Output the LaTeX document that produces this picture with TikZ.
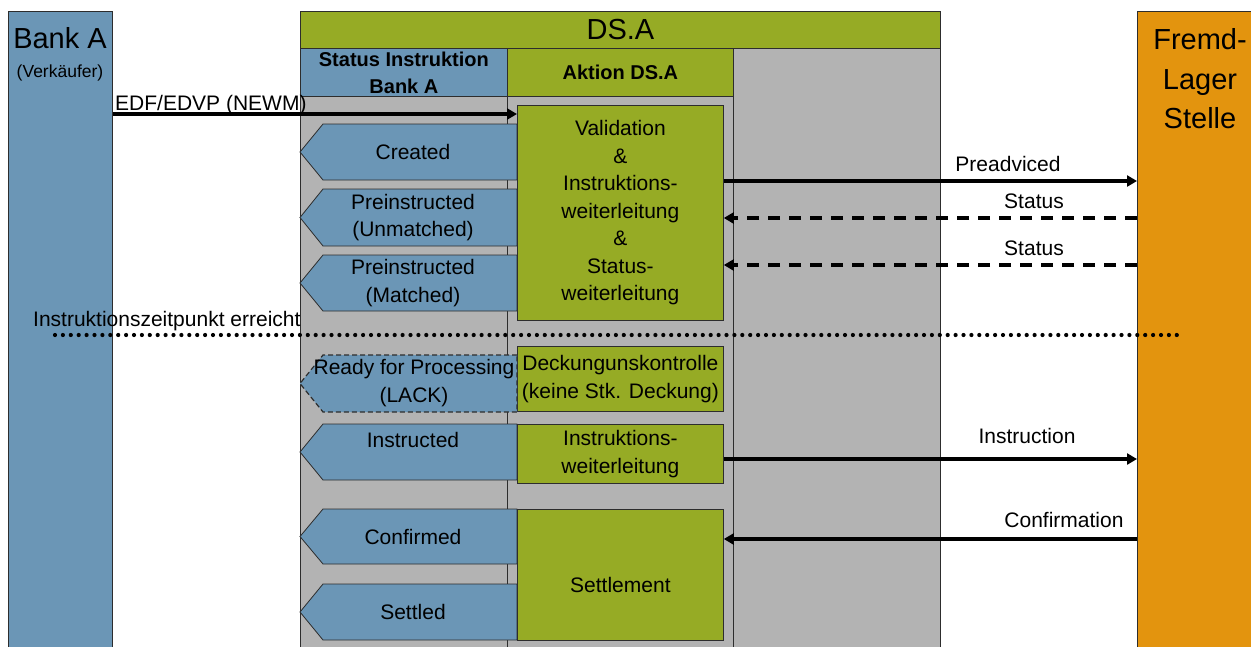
\documentclass[tikz,border=0pt]{standalone}
\usepackage{fontspec}
\setmainfont{Liberation Sans}
\setsansfont{Liberation Sans}
\usetikzlibrary{arrows.meta, positioning}

\definecolor{bankblue}{RGB}{107,150,182}
\definecolor{dsgreen}{RGB}{150,171,37}
\definecolor{dsgray}{RGB}{179,179,179}
\definecolor{lagerorange}{RGB}{227,148,14}
\definecolor{edge}{RGB}{45,45,45}

\begin{document}
\begin{tikzpicture}[x=1pt, y=-1pt, font=\fontsize{21}{27.5}\selectfont,
	col/.style={draw=edge, line width=0.8pt, anchor=north west, inner sep=0pt, align=center},
	act/.style={col, fill=dsgreen},
	stat/.style={draw=edge, fill=bankblue, line width=0.8pt},
	txt/.style={inner sep=0pt, align=center},
	lbl/.style={inner sep=0pt, anchor=base},
	big/.style={inner sep=0pt, anchor=base, font=\fontsize{29}{35}\selectfont},
	hdr/.style={font=\fontsize{20}{27}\selectfont\bfseries},
	msg/.style={line width=4pt, -{Triangle[length=10pt, width=11pt]}},
	statmsg/.style={msg, dash pattern=on 12pt off 9pt},
	dotline/.style={line width=4.2pt, line cap=round, dash pattern=on 0pt off 7.9pt},
	divider/.style={draw=edge, line width=0.8pt}]
	\def\A{517}
	\def\T{11}

	\useasboundingbox (0,0) rectangle (1251,646);
	\clip (0,0) rectangle (1251,646);

	\node[col, fill=bankblue, minimum width=104pt, minimum height=660pt]		(bankA) at (8,\T) {};
	\node[col, fill=dsgray, minimum width=640pt, minimum height=660pt]		(dsa) at (300,\T) {};
	\node[col, fill=lagerorange, minimum width=140pt, minimum height=660pt]	(lager) at (1137,\T) {};

	\node[col, fill=dsgreen, minimum width=640pt, minimum height=37pt, font=\fontsize{29}{35}\selectfont]	(dsahead) at (300,\T) {DS.A};
	\node[col, hdr, fill=bankblue, minimum width=207pt, minimum height=48pt]	(stathead) at (300,48) {Status Instruktion\\Bank A};
	\node[col, hdr, fill=dsgreen, minimum width=226pt, minimum height=48pt]	(akthead) at (507,48) {Aktion DS.A};

	\draw[divider]	(stathead.south east) -- ++(0,600);
	\draw[divider]	(akthead.south east) -- ++(0,600);

	\node[big]	(banktxt) at (60,48) {Bank A};
	\node[lbl, font=\fontsize{17.5}{20}\selectfont]	(banksub) at (60,77) {(Verkäufer)};
	\foreach \y/\w [count=\n] in {49/Fremd-, 89/Lager, 128/Stelle}
		\node[big]	(lagertxt\n) at (1200,\y) {\w};

	\foreach \yt/\yb/\nm/\txt in {124/180/created/Created, 189/246/unmatched/{Preinstructed\\(Unmatched)}, 255/311/matched/{Preinstructed\\(Matched)}, 509/564/confirmed/Confirmed, 584/640/settled/Settled}{
		\draw[stat]	(\A,\yt) -- (323,\yt) -- (300,{(\yt+\yb)/2}) -- (323,\yb) -- (\A,\yb) -- cycle;
		\node[txt]	(\nm) at (413,{(\yt+\yb)/2}) {\txt};
	}
	\draw[stat]	(\A,424) -- (323,424) -- (300,452) -- (323,480) -- (\A,480) -- cycle;
	\node[txt]	(instructed) at (413,440) {Instructed};

	\node[act, minimum width=206pt, minimum height=215pt]	(valid) at (\A,105) {Validation\\\&\\Instruktions-\\weiterleitung\\\&\\Status-\\weiterleitung};
	\node[act, minimum width=206pt, minimum height=65pt]	(deckung) at (\A,346) {Deckungunskontrolle\\(keine Stk. Deckung)};
	\node[act, minimum width=206pt, minimum height=59pt]	(instr) at (\A,424) {Instruktions-\\weiterleitung};
	\node[act, minimum width=206pt, minimum height=131pt]	(settle) at (\A,509) {};
	\node[txt]	(settletxt) at ([yshift=-10pt]settle.center) {Settlement};

	\draw[stat, dash pattern=on 5pt off 3pt, line width=1.2pt]	(\A,355) -- (323,355) -- (300,383.5) -- (323,412) -- (\A,412) -- cycle;
	\node[txt]	(ready) at (414,383) {Ready for Processing\\(LACK)};

	\coordinate (edfY) at (0,114);
	\draw[msg]	(bankA.east |- edfY) -- (valid.west |- edfY);
	\node[lbl, anchor=base west]	(edflbl) at (115,110) {EDF/EDVP (NEWM)};

	\foreach \y/\nm in {181/pre, 218/sta, 265/stb, 459/ins, 539/conf}
		\coordinate (\nm) at (1137,\y);
	\draw[msg]		(valid.east |- pre) -- (lager.west |- pre);
	\draw[statmsg]	(lager.west |- sta) -- (valid.east |- sta);
	\draw[statmsg]	(lager.west |- stb) -- (valid.east |- stb);
	\draw[msg]		(instr.east |- ins) -- (lager.west |- ins);
	\draw[msg]		(lager.west |- conf) -- (settle.east |- conf);

	\node[lbl]	(prelbl) at (1008,171) {Preadviced};
	\node[lbl]	(stalbl) at (1034,208) {Status};
	\node[lbl]	(stblbl) at (1034,255) {Status};
	\node[lbl]	(inslbl) at (1027,443) {Instruction};
	\node[lbl]	(conflbl) at (1064,527) {Confirmation};

	\coordinate (dotL) at (55,335);
	\coordinate (dotR) at (1183,335);
	\draw[dotline]	(dotL) -- (dotR);
	\node[lbl, anchor=base west]	(zeitlbl) at (33,326) {Instruktionszeitpunkt erreicht};
\end{tikzpicture}
\end{document}
